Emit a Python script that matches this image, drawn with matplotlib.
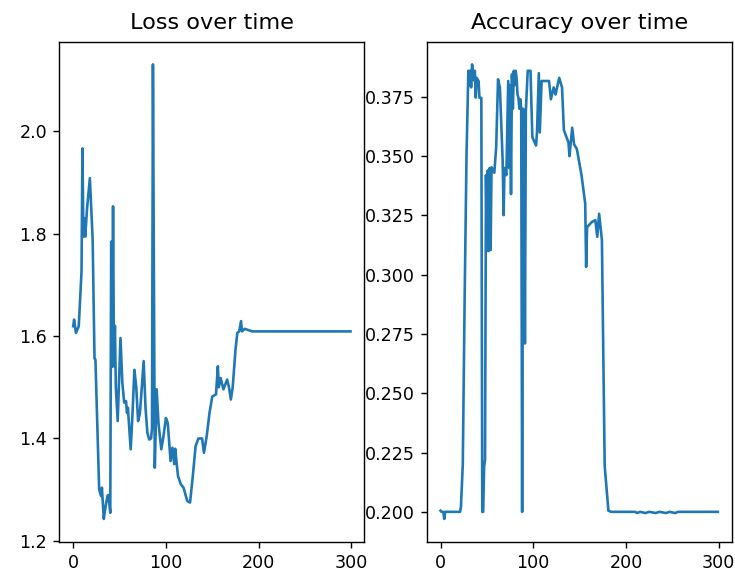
import matplotlib
matplotlib.use('Agg')
import matplotlib.pyplot as plt

# Loss curve (epoch, value)
loss_epoch = [0, 1, 3, 6, 8, 9, 10, 11, 12, 13, 15, 18, 21, 23, 24, 28, 30, 31, 33, 35,
              37, 38, 40, 41, 42, 43, 44, 45, 46, 48, 51, 53, 55, 57, 58, 59, 62, 64, 66,
              68, 70, 72, 74, 76, 78, 80, 82, 84, 85, 86, 88, 90, 92, 95, 97, 100, 102,
              105, 107, 109, 110, 113, 116, 119, 123, 126, 129, 132, 135, 139, 141, 144,
              147, 150, 154, 156, 157, 159, 162, 166, 168, 170, 172, 175, 177, 179, 181,
              182, 185, 193, 299]
loss_value = [1.619, 1.632, 1.606, 1.619, 1.69, 1.726, 1.966, 1.794, 1.83, 1.794, 1.85,
              1.908, 1.788, 1.556, 1.554, 1.301, 1.288, 1.304, 1.243, 1.268, 1.288, 1.29,
              1.255, 1.784, 1.54, 1.853, 1.541, 1.62, 1.50, 1.434, 1.596, 1.509, 1.47,
              1.473, 1.45, 1.46, 1.379, 1.45, 1.534, 1.50, 1.434, 1.45, 1.50, 1.551, 1.46,
              1.411, 1.398, 1.40, 1.42, 2.13, 1.343, 1.496, 1.43, 1.379, 1.40, 1.44, 1.43,
              1.356, 1.382, 1.35, 1.38, 1.327, 1.311, 1.304, 1.278, 1.275, 1.327, 1.385,
              1.40, 1.40, 1.372, 1.405, 1.45, 1.482, 1.486, 1.541, 1.50, 1.518, 1.496,
              1.515, 1.50, 1.476, 1.50, 1.573, 1.606, 1.609, 1.629, 1.609, 1.614, 1.609,
              1.609]

# Accuracy curve (epoch, value)
acc_epoch = [0, 1, 3, 4, 5, 21, 22, 24, 26, 28, 30, 31, 32, 33, 34, 36, 37, 38, 39, 41,
             42, 44, 45, 46, 47, 48, 49, 50, 51, 52, 53, 54, 55, 58, 60, 62, 64, 67, 68,
             69, 71, 73, 74, 75, 76, 77, 78, 79, 80, 81, 82, 83, 84, 85, 86, 87, 88, 89,
             90, 91, 92, 94, 97, 99, 103, 104, 106, 107, 109, 117, 119, 122, 124, 128,
             131, 133, 138, 139, 142, 144, 147, 152, 156, 157, 158, 163, 167, 169, 171,
             174, 177, 181, 184, 210, 212, 215, 221, 225, 232, 236, 243, 247, 253, 256,
             299]
acc_value = [0.2005, 0.2, 0.2, 0.197, 0.2, 0.2, 0.202, 0.22, 0.29, 0.35, 0.386, 0.38,
             0.386, 0.379, 0.3887, 0.382, 0.386, 0.3747, 0.383, 0.3817, 0.3746, 0.3746,
             0.2, 0.2, 0.219, 0.222, 0.342, 0.31, 0.344, 0.31, 0.345, 0.3104, 0.3453,
             0.343, 0.3537, 0.3824, 0.379, 0.348, 0.3251, 0.345, 0.342, 0.3817, 0.345,
             0.38, 0.334, 0.3845, 0.37, 0.386, 0.38, 0.386, 0.383, 0.376, 0.3747, 0.37,
             0.374, 0.37, 0.2, 0.37, 0.365, 0.271, 0.369, 0.386, 0.386, 0.358, 0.3545,
             0.36, 0.385, 0.360, 0.3817, 0.3817, 0.374, 0.379, 0.376, 0.383, 0.379, 0.361,
             0.3557, 0.350, 0.362, 0.355, 0.353, 0.342, 0.33, 0.3033, 0.32, 0.3222, 0.323,
             0.316, 0.3257, 0.3146, 0.2194, 0.2005, 0.2, 0.2, 0.1995, 0.2, 0.1995, 0.2,
             0.1995, 0.2, 0.1995, 0.2, 0.1995, 0.2, 0.2]

fig = plt.figure(figsize=(735 / 126, 577 / 126), dpi=126)
ax1 = fig.add_axes([0.0807, 0.0612, 0.415, 0.8666])
ax2 = fig.add_axes([0.5805, 0.0612, 0.415, 0.8666])

ax1.plot(loss_epoch, loss_value)
ax1.set_title('Loss over time', fontsize=12.8, pad=7.5)

ax2.plot(acc_epoch, acc_value)
ax2.set_title('Accuracy over time', fontsize=12.8, pad=7.5)

fig.savefig('out.png', dpi=126)
